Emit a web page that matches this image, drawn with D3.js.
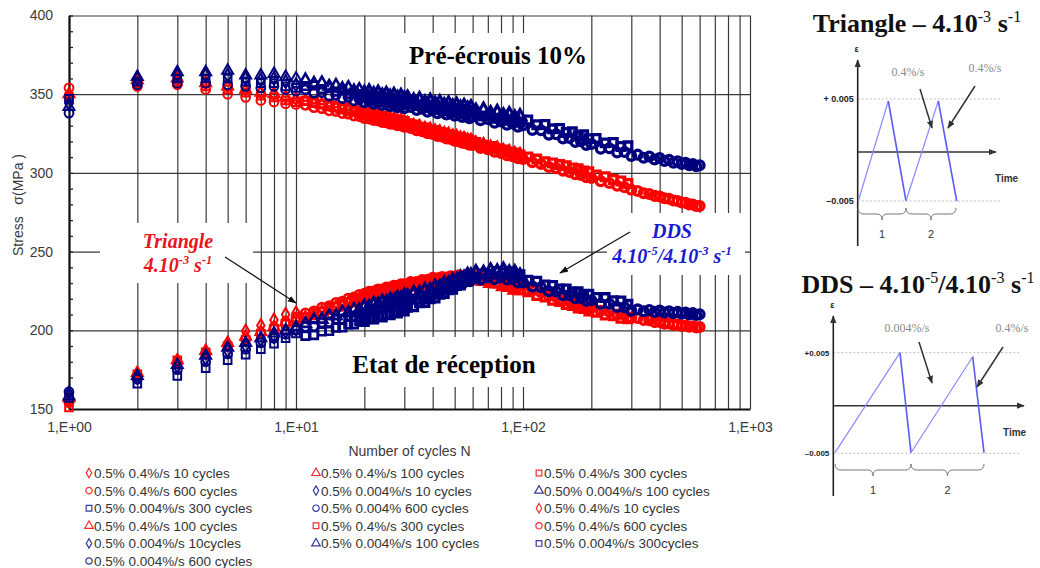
<!DOCTYPE html>
<html><head><meta charset="utf-8">
<script src="https://cdn.jsdelivr.net/npm/d3@7"></script>
<style>body{margin:0;background:#fff;} svg{display:block;}</style>
</head><body><svg id="c" width="1040" height="568"></svg>
<script>
// ---------- DATA ----------
// cycle numbers at which the 10- and 600-cycle series were read
const cycles = [1,2,3,4,5,6,7,8,9,10,11,12,13,14,15,16,17,18,19,20,21,22,23,24,25,26,27,28,29,30,
  32,34,36,38,40,42,44,46,48,50,52,54,56,58,60,65,70,75,80,85,90,95,100,
  110,120,130,140,150,160,170,180,190,200,220,240,260,280,300,
  320,340,360,380,400,420,440,460,480,500,520,540,560,580,600];
// cycle numbers at which the 100- and 300-cycle series were read
const cyclesB = [1,2,3,4,5,6,7,8,9,10,11,12,13,14,15,16,17,18,19,20,21,22,23,24,25,26,27,28,29,30,
  31,33,35,37,39,41,43,45,47,49,51,53,55,57,59,62,67,72,77,82,87,92,97,
  105,115,125,135,145,155,165,175,185,195,210,230,250,270,290];

// Pré-écrouis 10% — 0.4%/s (red)
const preRed10 = [349,358,359,357,355,353,351,350,348,347];
const preRed100 = [350,359,360,357,355,353,351,350,348,346.5, 345.6,344,343.5,342,341.6,340.3,340,338.8,338.6,337.3, 337.1,336,335.9,334.8,334.7,333.8,333.7,332.7,332.6,331.8, 331,329.6,329,327.7,327.1,326,325.6,324.4,324,322.9,322.6,321.6,321.3,320.4,320.2, 318.4,317.5,315.9,315.2,313.7,313,311.8,311.2];
const preRed300 = [348,357,358,355,353,351,349,348,346,345, 345.7,345,343.6,343,341.7,341.3,340.1,339.7,338.6,338.3, 337.2,337,336,335.8,334.8,334.7,333.8,333.7,332.8,332.7, 331.2,330.5,329.1,328.6,327.3,326.9,325.7,325.3,324.1,323.8,322.7,322.5,321.5,321.3,320.3, 319.3,317.6,316.8,315.3,314.6,313.2,312.7,311.4, 310.2,308.8,307.1,306.3,305.3,304.6,303.2,302.6,301.2,300.7, 298.7,297.6,295.8,294.9,293.3];
const preRed600 = [354,355,356,353,350,348,346,345,344,343.5, 343.1,341.6,341,339.6,339.1,337.9,337.5,336.3,336,334.9, 334.6,333.6,333.4,332.4,332.2,331.3,331.2,330.3,330.2,329.3, 328.6,327.1,326.5,325.2,324.7,323.5,323.1,321.9,321.5,320.4,320.1,319.1,318.9,317.9,317.7, 315.9,315,313.4,312.7,311.2,310.6,309.3,308.8, 306.7,305.6,303.8,302.9,301.3,300.6,299.2,298.6,297.2,296.7, 294.7,293.6,291.8,290.9,289.3, 288.5,287.1,286.6,285.4,285,283.9,283.6,282.5,282.2,281.2,281,280,279.9,279,279];

// Pré-écrouis 10% — 0.004%/s (blue)
const preBlue10 = [344,360,362,362,362,360,359,360,358,356];
const preBlue100 = [342,361,364,364,365,362,362,363,361,360, 359,356.8,357.2,355,355.6,353.5,354.2,352,352.9,350.9, 351.8,350,351,349.1,350.2,348.4,349.5,347.7,348.9,347.2, 347.9,346,346.8,344.8,345.9,344,345,343.1,344.2,342.3,343.4,341.5,342.6,340.8,341.8, 339.5,340.2,337.9,338.7,336.6,337.4,335.3,336.1];
const preBlue300 = [347,358,360,360,360,358,357,357,355,354, 355.2,355.6,353.3,353.9,351.6,352.4,350.2,351,348.9,349.8, 347.8,348.9,347,348.1,346.2,347.4,345.5,346.7,344.9,346.1, 343.9,344.9,342.8,343.8,341.8,342.9,341,342.1,340.2,341.3,339.4,340.5,338.6,339.7,337.8, 338.5,336.2,336.9,334.7,335.6,333.4,334.3,332.4, 333.6,330.6,330.8,328,328.3,325.7,326.1,323.6,324.2,321.8, 321.9,319.1,319.4,316.8,317.2];
const preBlue600 = [338,356,357,357,356,355,354,355,353,352, 353,350.8,351.2,349,349.5,347.4,348.1,346,346.8,344.9, 345.7,344,344.9,343.1,344.1,342.4,343.4,341.7,342.8,341.1, 341.9,339.9,340.8,338.8,339.8,337.9,339,337.1,338.2,336.3,337.4,335.5,336.6,334.7,335.8, 333.5,334.2,331.9,332.7,330.6,331.4,329.3,330.2, 327.2,327.1,324.3,324.5,321.8,322.2,319.6,320.1,317.7,318.3, 315.4,315.6,312.9,313.3,310.8, 311.6,309.6,310.4,308.5,309.4,307.5,308.4,306.5,307.4,305.6,306.5,304.8,305.7,304.2,304.8];

// Etat de réception — 0.4%/s (red)
const recRed10 = [155,172,180,186,191,199.5,203,206.5,210,211];
const recRed100 = [157,173,181,187,192,196,199,202,205,207, 207.9,209.2,211.5,212.5,214.6,215.4,217.3,218,219.7,220.2, 221.5,221.6,222.9,222.9,224.1,224.1,225.3,225.2,226.3,226.2, 227.6,227.7,229,229.1,230.3,230,230.9,230.6,231.4,231.1,231.9,231.4,232.1,231.6,232.3, 231.5,231.4,230,229.6,227.9,227.4,225.7,225.3];
const recRed300 = [151,172,181,186,190,194,198,201,204,206, 208.3,210.8,211.9,214.1,215,217,217.7,219.6,220.1,221.8, 221.9,223.2,223.3,224.5,224.5,225.7,225.7,226.8,226.7,227.8, 228,229.3,229.4,230.7,230.7,231.6,231.3,232.2,231.8,232.7,232.3,233,232.5,233.2,232.7, 233.1,231.8,231.6,230,229.5,227.8,227.3,225.7, 224.4,222.1,221.1,219,218.2,216.3,215.8,214.2,213.8,212.3, 211.5,209.7,209.2,207.6,207.3];
const recRed600 = [154,170,179,185,190,194.5,198,202,205.5,208.5, 210.9,212.2,214.5,215.5,217.6,218.4,220.3,221,222.7,223.2, 224.5,224.6,225.9,225.9,227.1,227.1,228.3,228.2,229.3,229.2, 230.6,230.7,232,232.1,233.3,233,233.9,233.6,234.4,234.1,234.9,234.4,235.1,234.6,235.3, 234.5,234.4,233,232.6,230.9,230.4,228.7,228.3, 225.3,224.2,222,221.1,219.1,218.4,216.7,216.3,214.7,214.4, 212.4,211.8,210.1,209.7,208.2, 207.8,206.5,206.4,205.2,205.3,204.2,204.4,203.4,203.7,202.8,203.1,202.2,202.6,201.8,202.1];

// Etat de réception — 0.004%/s (blue)
const recBlue10 = [160,170,177,182,187,190,194,196,199,201];
const recBlue100 = [158,171,178,184,189,192,195,198,200,202, 204.2,206.6,206.9,209.2,209.2,211.4,211.2,213.3,213.1,215.1, 214.8,216.7,216.3,218.1,217.7,219.4,218.9,220.6,220.1,221.8, 221.7,223.8,223.7,225.7,225.5,227.7,227.6,229.8,229.7,231.7,231.5,233.5,233.3,235.2,234.9, 236.9,236.5,238.1,237.4,238.5,236.8,237,234.8];
const recBlue300 = [157,166,171,176,181,184.5,188,191.5,195,198, 196.5,197,199.3,199.6,201.7,201.8,203.7,203.7,205.6,205.5, 207.3,207.1,208.8,208.5,210.2,209.8,211.4,211,212.6,212.2, 214.6,215,217.4,217.7,220,220.5,222.9,223.4,225.8,226.1,228.4,228.7,231,231.2,233.4, 233.7,235.8,235.7,237.4,236.6,237.2,235.4,235.3, 231.8,231.2,228.8,228.5,226.3,226.3,224.4,224.5,222.7,223, 220.9,220.8,218.8,218.6,216.5];
const recBlue600 = [161,169,175,180,185,188,192,195,197.5,200, 202.2,202.5,204.9,205.1,207.3,207.3,209.3,209.2,211.2,211, 212.9,212.6,214.4,214,215.8,215.3,217,216.5,218.2,217.7, 219.8,219.7,221.8,221.6,223.6,223.6,225.7,225.7,227.8,227.6,229.6,229.4,231.4,231.1,233, 232.3,233.6,232.5,233.7,232.3,232.6,230.4,230.4, 227.8,227.3,224.8,224.6,222.3,222.4,220.4,220.6,218.7,219.1, 216.9,216.9,214.8,214.7,212.5, 213.3,212.1,212.9,211.7,212.5,211.3,212.1,210.9,211.7,210.5,211.3,210.1,210.9,209.7,210.2];

const yTicks = [150,200,250,300,350,400];
const xTickValues = [1,10,100,1000];
const xTickLabels = ["1,E+00","1,E+01","1,E+02","1,E+03"];
const legendLabels = [
  "0.5% 0.4%/s 10 cycles","0.5% 0.4%/s 100 cycles","0.5% 0.4%/s 300 cycles",
  "0.5% 0.4%/s 600 cycles","0.5% 0.004%/s 10 cycles","0.50% 0.004%/s 100 cycles",
  "0.5% 0.004%/s 300 cycles","0.5% 0.004% 600 cycles","0.5% 0.4%/s 10 cycles",
  "0.5% 0.4%/s 100 cycles","0.5% 0.4%/s 300 cycles","0.5% 0.4%/s 600 cycles",
  "0.5% 0.004%/s 10cycles","0.5% 0.004%/s 100 cycles","0.5% 0.004%/s 300cycles",
  "0.5% 0.004%/s 600 cycles"];
const legendShapes = ["diamond","triangle","square","circle","diamond","triangle","square","circle",
  "diamond","triangle","square","circle","diamond","triangle","square","circle"];
const legendColors = ["r","r","r","r","b","b","b","b","r","r","r","r","b","b","b","b"];

// ---------- SETUP ----------
const RED = "#ff0000", BLUE = "#00007e";
const svg = d3.select("#c");
const L = 69, R = 750, T = 15.5, B = 409;
const x = d3.scaleLog().domain([1,1000]).range([L,R]);
const y = d3.scaleLinear().domain([150,400]).range([B,T]);
const axisFont = "'Liberation Sans', Arial, sans-serif";
const serif = "'Liberation Serif', 'Times New Roman', serif";

svg.append("defs").html(`
 <marker id="ahg" viewBox="0 0 10 10" refX="9" refY="5" markerWidth="8" markerHeight="8" orient="auto" markerUnits="userSpaceOnUse">
  <path d="M0,1 L10,5 L0,9 Z" fill="#333"/></marker>
 <marker id="ahk" viewBox="0 0 10 10" refX="9" refY="5" markerWidth="9" markerHeight="9" orient="auto" markerUnits="userSpaceOnUse">
  <path d="M0,1.5 L10,5 L0,8.5 Z" fill="#111"/></marker>`);

// ---------- GRID ----------
const grid = svg.append("g");
grid.append("g").attr("transform",`translate(0,${B})`)
  .call(d3.axisBottom(x).tickValues(x.ticks()).tickSize(-(B-T)).tickFormat(""))
  .call(g=>g.select(".domain").remove())
  .selectAll("line").attr("stroke","#3a3a3a").attr("stroke-width",1.2);
grid.append("g").attr("transform",`translate(${L},0)`)
  .call(d3.axisLeft(y).tickValues(yTicks.slice(1)).tickSize(-(R-L)).tickFormat(""))
  .call(g=>g.select(".domain").remove())
  .selectAll("line").attr("stroke","#3a3a3a").attr("stroke-width",1.2);

// white label boxes (cover gridlines)
const boxes = [[392,33,198,44],[327,337,233,50],[100,223,153,60],[607,213,138,62]];
svg.append("g").selectAll("rect").data(boxes).join("rect")
  .attr("x",d=>d[0]).attr("y",d=>d[1]).attr("width",d=>d[2]).attr("height",d=>d[3]).attr("fill","#fff");

// ---------- AXES ----------
const ya = svg.append("g").attr("transform",`translate(${L},0)`)
  .call(d3.axisLeft(y).tickValues(yTicks).tickSize(0).tickPadding(16));
ya.select(".domain").attr("stroke","#111").attr("stroke-width",2.2);
ya.selectAll("text").attr("font-family",axisFont).attr("font-size",14).attr("fill","#3a3a3a");
svg.append("g").attr("transform",`translate(${L},0)`)
  .call(d3.axisLeft(y).tickValues(d3.range(150,401,10)).tickSize(-4).tickFormat(""))
  .call(g=>g.select(".domain").remove())
  .selectAll("line").attr("stroke","#222").attr("stroke-width",1.3);

const xa = svg.append("g").attr("transform",`translate(0,${B})`)
  .call(d3.axisBottom(x).tickValues(xTickValues).tickSize(0).tickPadding(13)
    .tickFormat((d,i)=>xTickLabels[i]));
xa.select(".domain").attr("stroke","#111").attr("stroke-width",2.2);
xa.selectAll("text").attr("font-family",axisFont).attr("font-size",14).attr("fill","#3a3a3a");

svg.append("text").attr("x",(L+R)/2).attr("y",456).attr("text-anchor","middle")
  .attr("font-family",axisFont).attr("font-size",14).attr("fill","#3a3a3a").text("Number of cycles N");
svg.append("text").attr("transform","translate(23,205) rotate(-90)").attr("text-anchor","middle")
  .attr("font-family",axisFont).attr("font-size",14).attr("fill","#3a3a3a")
  .style("white-space","pre").text("Stress   σ(MPa )");

// ---------- DATA MARKERS ----------
const shapes = {diamond:d3.symbolDiamond, triangle:d3.symbolTriangle, square:d3.symbolSquare, circle:d3.symbolCircle};
const symSize = {diamond:48, triangle:52, square:58, circle:60};
const series = [
  {v:preRed600, n:cycles, s:"circle", c:RED},{v:preRed300, n:cyclesB, s:"square", c:RED},{v:preRed100, n:cyclesB, s:"triangle", c:RED},{v:preRed10, n:cycles, s:"diamond", c:RED},
  {v:recRed600, n:cycles, s:"circle", c:RED},{v:recRed300, n:cyclesB, s:"square", c:RED},{v:recRed100, n:cyclesB, s:"triangle", c:RED},{v:recRed10, n:cycles, s:"diamond", c:RED},
  {v:preBlue600, n:cycles, s:"circle", c:BLUE},{v:preBlue300, n:cyclesB, s:"square", c:BLUE},{v:preBlue100, n:cyclesB, s:"triangle", c:BLUE},{v:preBlue10, n:cycles, s:"diamond", c:BLUE},
  {v:recBlue600, n:cycles, s:"circle", c:BLUE},{v:recBlue300, n:cyclesB, s:"square", c:BLUE},{v:recBlue100, n:cyclesB, s:"triangle", c:BLUE},{v:recBlue10, n:cycles, s:"diamond", c:BLUE}
];
const dataG = svg.append("g");
series.forEach(sr=>{
  const sym = d3.symbol().type(shapes[sr.s]).size(symSize[sr.s]);
  dataG.append("g").selectAll("path").data(sr.v.map((v,i)=>({n:sr.n[i], s:v}))).join("path")
    .attr("d",sym).attr("transform",d=>`translate(${x(d.n)},${y(d.s)})`)
    .attr("fill","none").attr("stroke",sr.c).attr("stroke-width",d=>d.n>=20?3.3:(d.n>10?2.6:2));
});

// ---------- ANNOTATIONS ----------
svg.append("text").attr("x",498).attr("y",64).attr("text-anchor","middle")
  .attr("font-family",serif).attr("font-weight","bold").attr("font-size",25).text("Pré-écrouis 10%");
svg.append("text").attr("x",444).attr("y",373).attr("text-anchor","middle")
  .attr("font-family",serif).attr("font-weight","bold").attr("font-size",25).text("Etat de réception");

function supLine(g, xx, yy, parts, opts){
  const t = g.append("text").attr("x",xx).attr("y",yy).attr("text-anchor","middle")
    .attr("font-family",serif).attr("font-size",opts.size).attr("fill",opts.color)
    .attr("font-weight",opts.weight||"bold").attr("font-style",opts.style||"normal");
  let shifted = false;
  parts.forEach(p=>{
    const ts = t.append("tspan").text(p.t);
    if(p.sup && !shifted){ ts.attr("dy",-opts.size*0.38).attr("font-size",opts.size*0.62); if(opts.supWeight) ts.attr("font-weight",opts.supWeight); shifted=true; }
    else if(p.sup){ ts.attr("font-size",opts.size*0.62); if(opts.supWeight) ts.attr("font-weight",opts.supWeight); }
    else if(shifted){ ts.attr("dy",opts.size*0.38); shifted=false; }
  });
  return t;
}
const ann = svg.append("g");
ann.append("text").attr("x",178).attr("y",248).attr("text-anchor","middle").attr("font-family",serif)
  .attr("font-weight","bold").attr("font-style","italic").attr("font-size",20).attr("fill","#e8141c").text("Triangle");
supLine(ann,178,272,[{t:"4.10"},{t:"-3",sup:true},{t:" s"},{t:"-1",sup:true}],{size:20,color:"#e8141c",style:"italic"});
ann.append("text").attr("x",672).attr("y",238).attr("text-anchor","middle").attr("font-family",serif)
  .attr("font-weight","bold").attr("font-style","italic").attr("font-size",20).attr("fill","#1a1ad0").text("DDS");
supLine(ann,672,263,[{t:"4.10"},{t:"-5",sup:true},{t:"/4.10"},{t:"-3",sup:true},{t:" s"},{t:"-1",sup:true}],{size:20,color:"#1a1ad0",style:"italic"});
ann.append("line").attr("x1",225).attr("y1",257).attr("x2",296).attr("y2",303).attr("stroke","#111").attr("stroke-width",1.2).attr("marker-end","url(#ahk)");
ann.append("line").attr("x1",630).attr("y1",232).attr("x2",560).attr("y2",273).attr("stroke","#111").attr("stroke-width",1.2).attr("marker-end","url(#ahk)");

// ---------- LEGEND ----------
const legColX = [89,316,539], legY0 = 473, legDY = 17.6;
const lg = svg.append("g");
legendLabels.forEach((lab,i)=>{
  const cx = legColX[i%3], cy = legY0 + Math.floor(i/3)*legDY;
  const sym = d3.symbol().type(shapes[legendShapes[i]]).size(legendShapes[i]==="diamond"?26:32);
  lg.append("path").attr("d",sym).attr("transform",`translate(${cx},${cy})`).attr("fill","none")
    .attr("stroke",legendColors[i]==="r"?"#f03030":"#3a3aa0").attr("stroke-width",1.2);
  lg.append("text").attr("x",cx+5).attr("y",cy+5).attr("font-family",axisFont).attr("font-size",13.5)
    .attr("fill","#333").text(lab);
});

// ---------- INSETS ----------
const ins = svg.append("g");
function brace(g,x1,x2,y0){
  const m=(x1+x2)/2;
  g.append("path").attr("d",`M${x1},${y0} Q${x1},${y0+6} ${x1+6},${y0+6} L${m-5},${y0+6} Q${m},${y0+6} ${m},${y0+12} Q${m},${y0+6} ${m+5},${y0+6} L${x2-6},${y0+6} Q${x2},${y0+6} ${x2},${y0}`)
    .attr("fill","none").attr("stroke","#777").attr("stroke-width",1);
}
function inset(cfg){
  const g = ins.append("g");
  [cfg.yHi,cfg.yLo].forEach(yy=>g.append("line").attr("x1",cfg.ax).attr("x2",cfg.dashEnd).attr("y1",yy).attr("y2",yy)
    .attr("stroke","#bdbdbd").attr("stroke-width",1).attr("stroke-dasharray","2,2"));
  g.append("line").attr("x1",cfg.ax).attr("x2",cfg.ax).attr("y1",cfg.axBottom).attr("y2",cfg.axTop).attr("stroke","#222").attr("stroke-width",1.6).attr("marker-end","url(#ahg)");
  g.append("line").attr("x1",cfg.ax).attr("x2",cfg.tEnd).attr("y1",cfg.ay).attr("y2",cfg.ay).attr("stroke","#333").attr("stroke-width",1.6).attr("marker-end","url(#ahg)");
  g.append("text").attr("x",cfg.ax-1).attr("y",cfg.axTop-8).attr("text-anchor","middle").attr("font-family",axisFont).attr("font-weight","bold").attr("font-size",9).attr("fill","#222").text("ε");
  g.append("text").attr("x",cfg.ax-4).attr("y",cfg.yHi+3).attr("text-anchor","end").attr("font-family",axisFont).attr("font-weight","bold").attr("font-size",cfg.lvlFont).attr("fill","#222").text(cfg.hiLab);
  g.append("text").attr("x",cfg.ax-4).attr("y",cfg.yLo+3).attr("text-anchor","end").attr("font-family",axisFont).attr("font-weight","bold").attr("font-size",cfg.lvlFont).attr("fill","#222").text("–0.005");
  g.append("text").attr("x",cfg.timeX).attr("y",cfg.timeY).attr("font-family",axisFont).attr("font-weight","bold").attr("font-size",10).attr("fill","#333").text("Time");
  const w = cfg.wave;
  for(let i=0;i<w.length-1;i++){
    const up = w[i+1][1] < w[i][1];
    g.append("line").attr("x1",w[i][0]).attr("y1",w[i][1]).attr("x2",w[i+1][0]).attr("y2",w[i+1][1])
      .attr("stroke", up? "#8a8aff":"#5c5cf0").attr("stroke-width",up?1.2:1.6);
  }
  brace(g,cfg.br[0],cfg.br[1],cfg.brY); brace(g,cfg.br[1],cfg.br[2],cfg.brY);
  g.append("text").attr("x",(cfg.br[0]+cfg.br[1])/2).attr("y",cfg.brY+30).attr("text-anchor","middle").attr("font-family",axisFont).attr("font-size",11).attr("fill","#333").text("1");
  g.append("text").attr("x",(cfg.br[1]+cfg.br[2])/2).attr("y",cfg.brY+30).attr("text-anchor","middle").attr("font-family",axisFont).attr("font-size",11).attr("fill","#333").text("2");
  cfg.rates.forEach(r=>g.append("text").attr("x",r[0]).attr("y",r[1]).attr("text-anchor","middle").attr("font-family",serif).attr("font-size",12).attr("fill","#8a8a8a").text(r[2]));
  cfg.arrows.forEach(a=>g.append("line").attr("x1",a[0]).attr("y1",a[1]).attr("x2",a[2]).attr("y2",a[3]).attr("stroke","#333").attr("stroke-width",1.5).attr("marker-end","url(#ahg)"));
}
inset({ax:857.7, axTop:60, axBottom:246, ay:152, tEnd:996, dashEnd:1000,
  yHi:99, yLo:201, hiLab:"+ 0.005", lvlFont:9, timeX:995, timeY:182,
  wave:[[858.3,201],[888.3,101],[906,201],[938.3,101],[956.7,201]],
  br:[858,906,956], brY:208,
  rates:[[908,76,"0.4%/s"],[985,72,"0.4%/s"]],
  arrows:[[920,89,932,128],[975,86,948,128]]});
inset({ax:833.3, axTop:316, axBottom:496, ay:405.7, tEnd:1024, dashEnd:1020,
  yHi:352.7, yLo:453.3, hiLab:"+0.005", lvlFont:8, timeX:1003, timeY:436,
  wave:[[835,452.7],[900,352.7],[911,452.7],[972.7,356.7],[984,452.7]],
  br:[835,911,984], brY:464,
  rates:[[907,332,"0.004%/s"],[1012,332,"0.4%/s"]],
  arrows:[[919,342,932,383],[1003,347,977,387]]});

supLine(ins,917,32,[{t:"Triangle – 4.10"},{t:"-3",sup:true},{t:" s"},{t:"-1",sup:true}],{size:26,color:"#111",supWeight:"normal"});
supLine(ins,918,293,[{t:"DDS – 4.10"},{t:"-5",sup:true},{t:"/4.10"},{t:"-3",sup:true},{t:" s"},{t:"-1",sup:true}],{size:26,color:"#111",supWeight:"normal"});
</script></body></html>
